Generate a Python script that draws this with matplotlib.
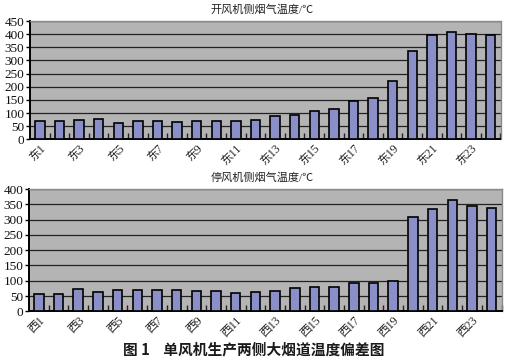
import matplotlib
matplotlib.use("Agg")
import matplotlib.pyplot as plt
import matplotlib.transforms as mtransforms
import numpy as np

east_labels = [f"东{i}" for i in range(1, 25)]
west_labels = [f"西{i}" for i in range(1, 25)]
east_values = [71, 71, 73, 77, 63, 71, 68, 65, 71, 71, 68, 73,
               89, 91, 106, 115, 146, 157, 223, 337, 397, 408, 399, 397]
west_values = [58, 58, 72, 62, 69, 69, 69, 69, 66, 66, 60, 62,
               66, 75, 80, 80, 94, 94, 100, 307, 335, 365, 343, 337]
east_title = "开风机侧烟气温度/℃"
west_title = "停风机侧烟气温度/℃"
caption = "图 1    单风机生产两侧大烟道温度偏差图"

FAM = ["Liberation Serif", "Noto Sans CJK SC", "DejaVu Sans"]
plt.rcParams["font.family"] = FAM

W, H = 510, 363
fig = plt.figure(figsize=(W / 100, H / 100), dpi=100)
fig.patch.set_facecolor("white")

def panel(rect, labels, values, ymax, title, title_y):
    ax = fig.add_axes(rect)
    ax.set_facecolor("#b4b4b4")
    x = np.arange(len(values))
    ax.bar(x, values, width=0.48, color="#8b8fc8", edgecolor="black",
           linewidth=1.2, zorder=3)
    ax.set_xlim(-0.5, len(values) - 0.5)
    ax.set_ylim(0, ymax)
    ax.set_yticks(np.arange(0, ymax + 1, 50))
    ax.yaxis.grid(True, color="#222222", linewidth=0.9, zorder=1)
    ax.set_axisbelow(True)
    ax.set_xticks(x[::2])
    ax.set_xticklabels(labels[::2], rotation=45, ha="right", rotation_mode="anchor",
                       family=FAM, fontsize=8.5, color="#222222")
    off = mtransforms.ScaledTranslation(-4 / 100, 0, fig.dpi_scale_trans)
    for lab in ax.get_xticklabels():
        lab.set_transform(lab.get_transform() + off)
    ax.tick_params(axis="x", length=0, pad=2)
    ax.set_xticks(np.arange(-0.5, len(values), 1)[1:], minor=True)
    ax.tick_params(axis="x", which="minor", direction="in", length=4, width=1, color="#222222")
    ax.tick_params(axis="y", direction="out", length=3, width=1, labelsize=9.5, pad=1,
                   labelcolor="#111111")
    for s in ["left", "bottom"]:
        ax.spines[s].set_color("black")
        ax.spines[s].set_linewidth(1.4)
    for s in ["top", "right"]:
        ax.spines[s].set_color("#8a8a8a")
        ax.spines[s].set_linewidth(1.0)
    fig.text(262 / W, 1 - title_y / H, title, ha="center", va="center",
             family=FAM, fontsize=8, color="#222222")
    return ax

# top panel: x 30..500, y 21..139
panel([30 / W, 1 - 139.3 / H, 470.5 / W, 118.3 / H], east_labels, east_values, 450,
      east_title, 10)
# bottom panel: x 29..501, y 189..311
panel([29 / W, 1 - 311.3 / H, 472.5 / W, 122.3 / H], west_labels, west_values, 400,
      west_title, 178)

fig.text(254 / W, 1 - 349 / H, caption, ha="center", va="center",
         family=["Noto Sans CJK SC", "DejaVu Sans"], fontsize=10.6, fontweight="bold",
         color="#1a1a1a")

fig.savefig("out.png", dpi=100)
